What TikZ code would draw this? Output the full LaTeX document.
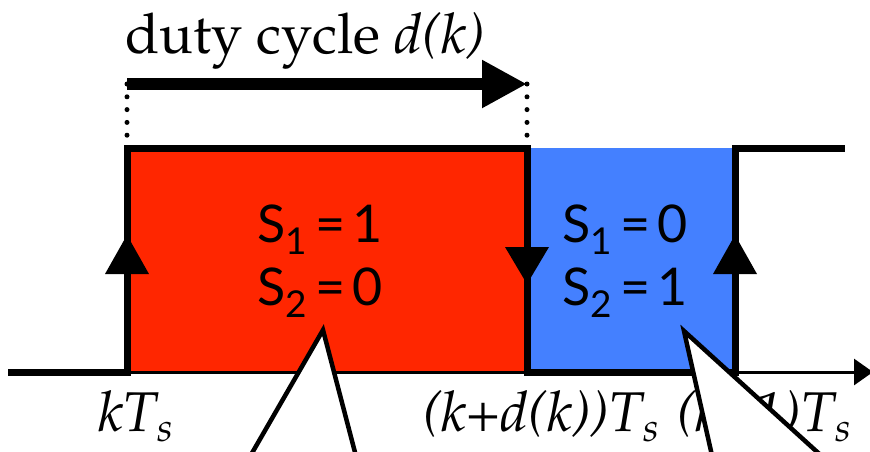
\documentclass[tikz,border=0pt]{standalone}
\usepackage{fontspec}
\usepackage[T1,TU]{fontenc}
\usetikzlibrary{arrows.meta}
\newfontfamily\labelsans{Lato}
\newcommand\pal{\fontencoding{T1}\fontfamily{ppl}\selectfont}
\newcommand\ssub[1]{\raisebox{-12pt}{\fontsize{37}{37}\selectfont #1}}
\newcommand\isub[1]{\raisebox{-10pt}{\fontsize{40}{40}\selectfont #1}}
\newcommand\eqn[3]{S\ssub{#1}\hspace{9pt}=\hspace{6pt}#2#3}
\definecolor{onred}{RGB}{255,38,0}
\definecolor{offblue}{RGB}{68,128,255}
\tikzset{
  wave/.style={line width=7pt, line join=miter, line cap=butt},
  axisline/.style={line width=3pt, -{Triangle[length=19pt,width=26pt]}},
  dimarrow/.style={line width=12pt, -{Triangle[length=45pt,width=45pt]}},
  dotline/.style={line width=5pt, line cap=round, dash pattern=on 0pt off 12.8pt},
  edgetip/.style={fill=black},
  callout/.style={draw=black, fill=white, line width=4.5pt, line join=miter},
  seriflabel/.style={inner sep=0pt, font={\pal\fontsize{56}{56}\selectfont}},
  sanslabel/.style={inner sep=0pt, font={\labelsans\fontsize{52}{52}\selectfont}},
}
\begin{document}
\begin{tikzpicture}[x=1pt,y=-1pt]
\clip (0,0) rectangle (870,451);
\fill[white] (0,0) rectangle (870,451);
% waveform corners
\coordinate (a0) at (8,372);
\coordinate (a1) at (127,372);
\coordinate (a2) at (127,148);
\coordinate (a3) at (527,148);
\coordinate (a4) at (527,372);
\coordinate (a5) at (735,372);
\coordinate (a6) at (735,148);
\coordinate (a7) at (845,148);
\coordinate (ax) at (873,372);
% fills
\fill[onred] (a2) rectangle (a4);
\fill[offblue] (a3) rectangle (a5);
% axis and waveform
\draw[axisline] (a0) -- (ax);
\draw[wave] (a0) -- (a1) -- (a2) -- (a3) -- (a4) -- (a5) -- (a6) -- (a7);
% arrows on edges
\fill[edgetip] (105,274) -- (149,274) -- (127,235) -- cycle;
\fill[edgetip] (505,247) -- (549,247) -- (527,284) -- cycle;
\fill[edgetip] (713,274) -- (757,274) -- (735,235) -- cycle;
% duty cycle dimension
\coordinate (d0) at (127,84);
\coordinate (d1) at (527,84);
\draw[dotline] (d0) -- (a2);
\draw[dotline] (d1) -- (a3);
\draw[dimarrow] (d0) -- (d1);
\node[seriflabel, anchor=base west] (title) at (125,53) {duty cycle \textit{d(k)}};
% switch states
\node[sanslabel, anchor=base west] (s1on) at (257,242) {\eqn{1}{1}{}};
\node[sanslabel, anchor=base west] (s2on) at (257,305) {\eqn{2}{0}{}};
\node[sanslabel, anchor=base west] (s1off) at (562,242) {\eqn{1}{0}{}};
\node[sanslabel, anchor=base west] (s2off) at (562,305) {\eqn{2}{1}{}};
% time labels
\node[seriflabel, anchor=base west] (t0) at (98,431) {\itshape kT\isub{s}};
\node[seriflabel, anchor=base west] (t1) at (423,431) {\itshape (k+d(k))T\isub{s}};
\node[seriflabel, anchor=base west] (t2) at (677,431) {\itshape (k+1)T\isub{s}};
% callouts
\coordinate (c1) at (323,330);
\coordinate (c2) at (684,331);
\draw[callout] (248,460) -- (c1) -- (357,460);
\draw[callout] (713,460) -- (c2) -- (826,460);
\end{tikzpicture}
\end{document}
